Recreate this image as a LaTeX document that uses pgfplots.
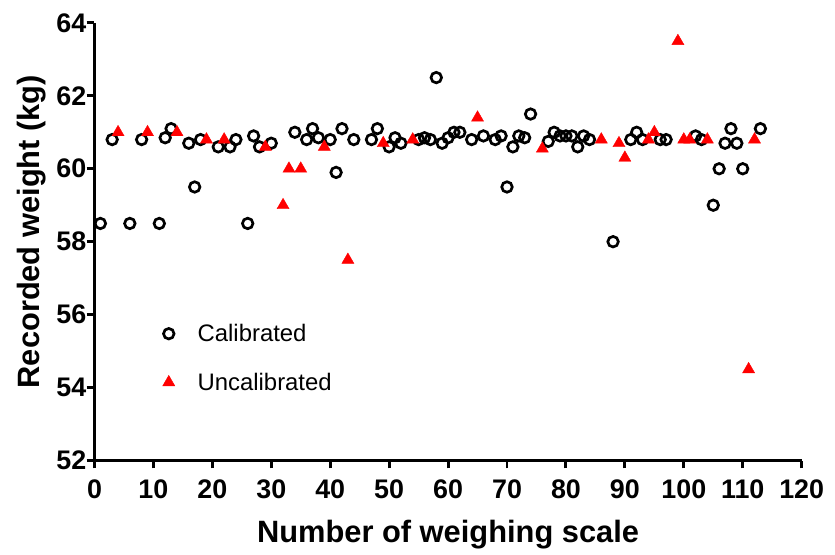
\documentclass[border=0pt]{standalone}
\usepackage{pgfplots}
\pgfplotsset{compat=1.18}
\usepackage{fontspec}
\setmainfont{Liberation Sans}

\begin{document}
\begin{tikzpicture}
\begin{axis}[
    scale only axis,
    width=711pt, height=440pt,
    xmin=0, xmax=120, ymin=52, ymax=64,
    xtick distance=10, ytick distance=2,
    axis x line*=bottom, axis y line*=left,
    axis line style={line width=3pt, black},
    tick align=outside,
    major tick length=8pt,
    tick style={line width=3pt, black},
    /pgf/number format/assume math mode=true,
    ticklabel style={font=\bfseries\fontsize{27}{27}\selectfont},
    xticklabel style={inner sep=11pt},
    yticklabel style={inner sep=0pt},
    xlabel={Number of weighing scale},
    ylabel={Recorded weight (kg)},
    label style={font=\bfseries\fontsize{31}{31}\selectfont},
    xlabel style={at={(axis description cs:0.5,-0.1864)}, anchor=base},
    ylabel style={at={(axis description cs:-0.0774,0.523)}, anchor=base},
    clip=false,
    legend style={draw=none, fill=none, inner sep=0pt,
        at={(axis cs:11.55,54.81)}, anchor=west,
        font=\fontsize{24}{24}\selectfont,
        row sep=26pt,
        /tikz/every odd column/.append style={column sep=21pt}},
    legend cell align=left,
]
% calibrated scales
\addplot[only marks, mark=o, mark size=5.3pt, line width=2.7pt, black]
coordinates {
(1,58.5) (3,60.8) (6,58.5) (8,60.8) (11,58.5) (12,60.85) (13,61.1)
(16,60.7) (17,59.5) (18,60.8) (21,60.6) (23,60.6) (24,60.8) (26,58.5)
(27,60.9) (28,60.6) (30,60.7) (34,61.0) (36,60.8) (37,61.1) (38,60.85)
(40,60.8) (41,59.9) (42,61.1) (44,60.8) (47,60.8) (48,61.1) (50,60.6)
(51,60.85) (52,60.7) (55,60.8) (56,60.85) (57,60.8) (58,62.5) (59,60.7)
(60,60.85) (61,61.0) (62,61.0) (64,60.8) (66,60.9) (68,60.8) (69,60.9)
(70,59.5) (71,60.6) (72,60.9) (73,60.85) (74,61.5) (77,60.75) (78,61.0)
(79,60.9) (80,60.9) (81,60.9) (82,60.6) (83,60.9) (84,60.8) (88,58.0)
(91,60.8) (92,61.0) (93,60.8) (96,60.8) (97,60.8) (102,60.9) (103,60.8)
(105,59.0) (106,60.0) (107,60.7) (108,61.1) (109,60.7) (110,60.0) (113,61.1)
};
\addlegendentry{Calibrated}
% uncalibrated scales
\addplot[only marks, mark=triangle*, mark size=7pt, red, mark options={draw=none, fill=red}]
coordinates {
(4,61.0) (9,61.0) (14,61.0) (19,60.8) (22,60.8) (29,60.6) (32,59.0)
(33,60.0) (35,60.0) (39,60.6) (43,57.5) (49,60.7) (54,60.8) (65,61.4)
(76,60.55) (86,60.8) (89,60.7) (90,60.3) (94,60.8) (95,61.0) (99,63.5)
(100,60.8) (101,60.8) (104,60.8) (111,54.5) (112,60.8)
};
\addlegendentry{Uncalibrated}
\end{axis}
\path (-95pt,-95pt) rectangle (740pt,463pt);
\end{tikzpicture}
\end{document}
